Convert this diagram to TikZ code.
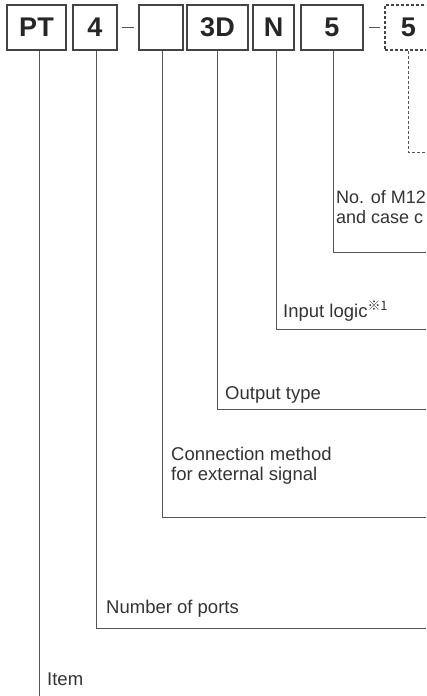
\documentclass[tikz,border=0pt]{standalone}
\usepackage{fontspec}
\setmainfont{Liberation Sans}
\newfontfamily\refmarkfont{Noto Sans CJK JP}
\definecolor{boxgray}{HTML}{444444}
\definecolor{linegray}{HTML}{555555}
\definecolor{textgray}{HTML}{333333}
\begin{document}
\begin{tikzpicture}[x=1pt,y=-1pt,
  codebox/.style={draw=boxgray, line width=1.4pt, minimum height=45pt, inner sep=0pt,
    font=\fontsize{27}{27}\selectfont\bfseries, text=black!85},
  optbox/.style={codebox, dash pattern=on 3pt off 2pt},
  lead/.style={draw=linegray, line width=1pt},
  optlead/.style={lead, dash pattern=on 3pt off 2pt},
  lbl/.style={anchor=base west, inner sep=0pt, font=\fontsize{18.5}{20}\selectfont,
    text=textgray, align=left}]
\useasboundingbox (0,0) rectangle (426,696);
\clip (0,0) rectangle (426,696);
% code boxes
\node[codebox, minimum width=59pt] (pt) at (36.5,27.5) {PT};
\node[codebox, minimum width=44pt] (ports) at (95,27.5) {4};
\node[codebox, minimum width=44pt] (conn) at (161,27.5) {};
\node[codebox, minimum width=61pt] (out) at (217.5,27.5) {3D};
\node[codebox, minimum width=41pt] (logic) at (273.5,27.5) {N};
\node[codebox, minimum width=62pt] (m12) at (332,27.5) {5};
\node[optbox, minimum width=47pt] (opt) at (408.5,27.5) {5};
% hyphens
\draw[lead] ([xshift=4pt]ports.east) -- ([xshift=-4pt]conn.west);
\draw[lead] ([xshift=5pt]m12.east) -- ([xshift=-4pt]opt.west);
% free ends
\coordinate (eopt) at (426,152);
\coordinate (em12) at (426,252.5);
\coordinate (elogic) at (426,329.5);
\coordinate (eout) at (426,409);
\coordinate (econn) at (426,517);
\coordinate (eports) at (426,628);
\coordinate (ept) at (39,696);
% leaders
\draw[optlead] (opt.south) |- (eopt);
\draw[lead] ([xshift=1pt]m12.south) |- (em12);
\draw[lead] ([xshift=3pt]logic.south) |- (elogic);
\draw[lead] (out.south) |- (eout);
\draw[lead] ([xshift=1pt]conn.south) |- (econn);
\draw[lead] ([xshift=1pt]ports.south) |- (eports);
\draw[lead] ([xshift=2.5pt]pt.south) -- (ept);
% labels
\node[lbl, font=\fontsize{18}{20}\selectfont] (lm12) at (336,223) {No. of M12\\and case c};
\node[lbl] (llogic) at (283,317) {Input logic\textsuperscript{\refmarkfont ※1}};
\node[lbl] (lout) at (225,399) {Output type};
\node[lbl] (lconn) at (171,480) {Connection method\\for external signal};
\node[lbl] (lports) at (106,613) {Number of ports};
\node[lbl] (lpt) at (47,685) {Item};
\end{tikzpicture}
\end{document}
